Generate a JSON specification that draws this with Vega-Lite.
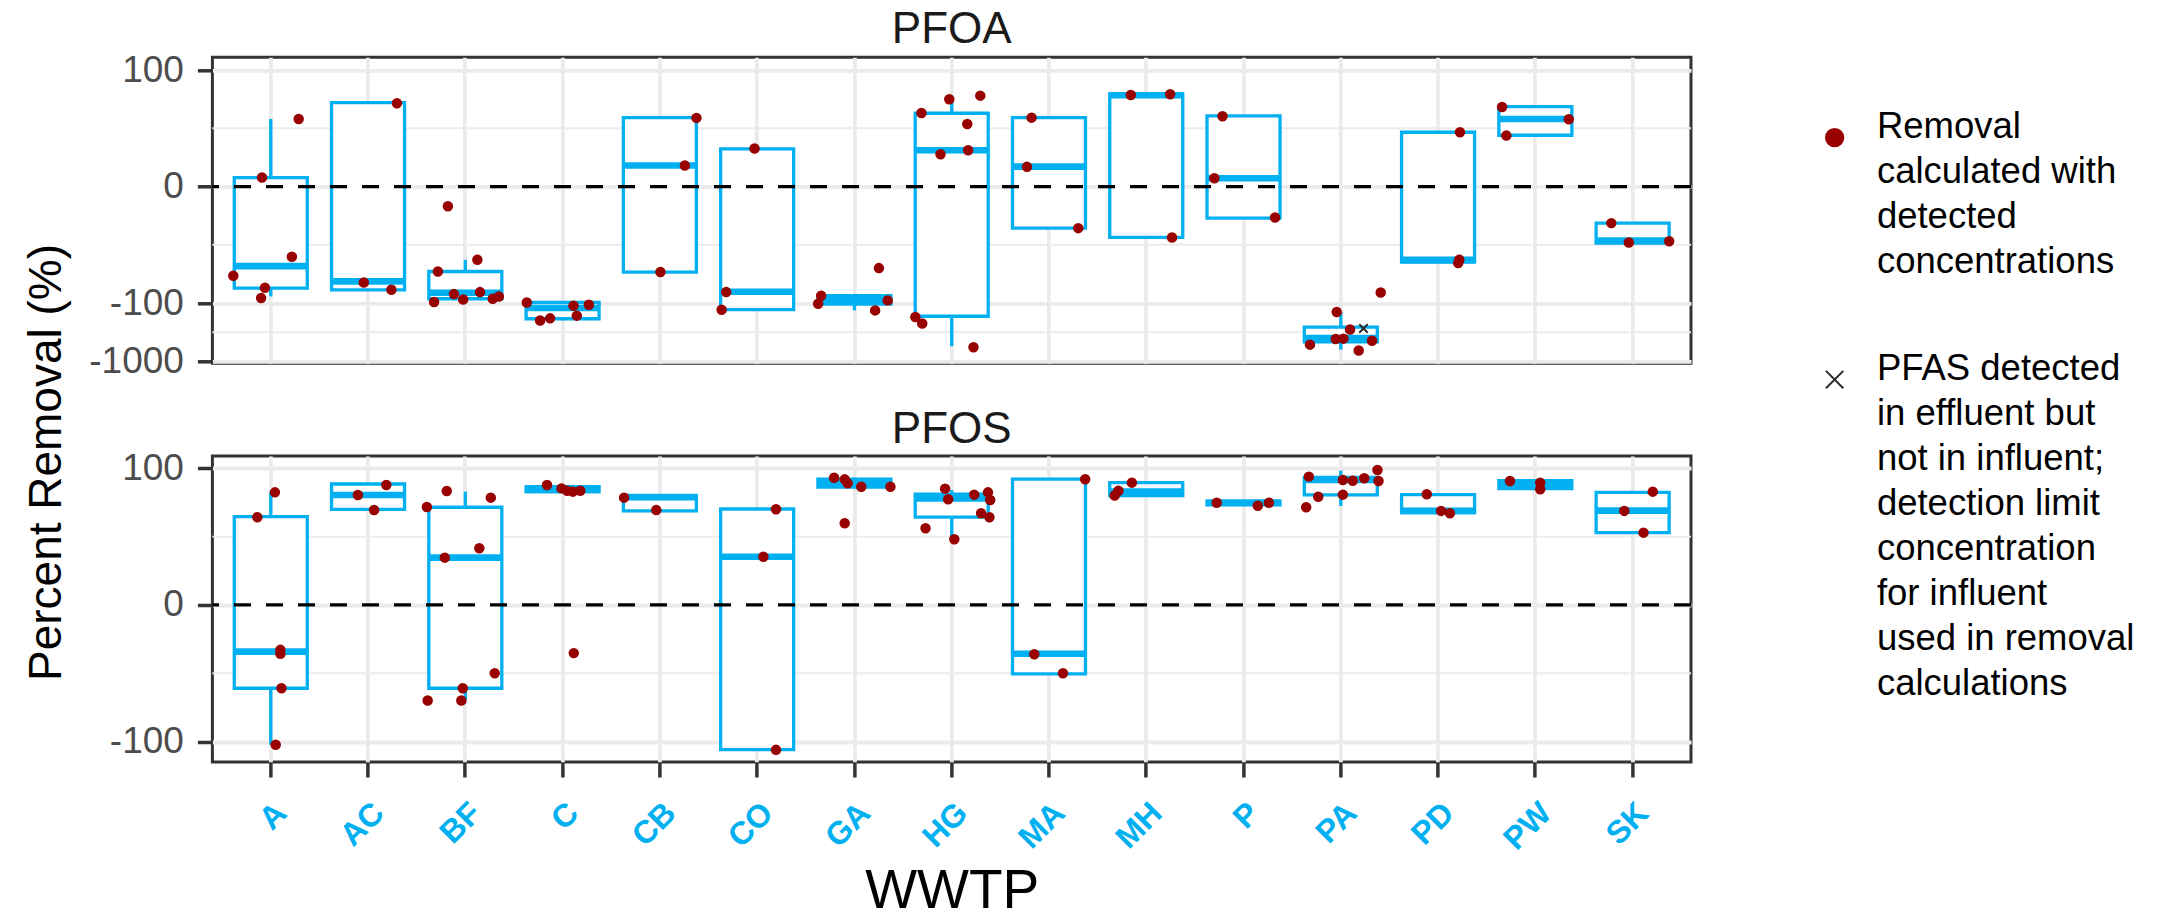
{
  "$schema": "https://vega.github.io/schema/vega-lite/v6.json",
  "autosize": {"type": "none"},
  "padding": {"left": 212.4, "top": 57.3, "right": 1946.6, "bottom": 861.7},
  "background": "white",
  "bounds": "flush",
  "spacing": 92.7,
  "datasets": {
    "minor": [
      {"panel": "PFOA", "value": 50}, {"panel": "PFOA", "value": -50}, {"panel": "PFOA", "value": -316.2},
      {"panel": "PFOS", "value": 50}, {"panel": "PFOS", "value": -50}
    ],
    "boxes": [
      {"panel": "PFOA", "site": "A", "lower": -94.3, "q1": -87.1, "median": -68.3, "q3": 7.7, "upper": 58.0},
      {"panel": "PFOA", "site": "AC", "lower": -88.6, "q1": -88.6, "median": -81.4, "q3": 72.0, "upper": 72.0},
      {"panel": "PFOA", "site": "BF", "lower": -99.1, "q1": -96.3, "median": -91.2, "q3": -72.9, "upper": -62.9},
      {"panel": "PFOA", "site": "C", "lower": -199, "q1": -187, "median": -122, "q3": -99.5, "upper": -99.1},
      {"panel": "PFOA", "site": "CB", "lower": -73.4, "q1": -73.4, "median": 18.0, "q3": 59.1, "upper": 59.1},
      {"panel": "PFOA", "site": "CO", "lower": -130, "q1": -130, "median": -90.3, "q3": 32.3, "upper": 32.3},
      {"panel": "PFOA", "site": "GA", "lower": -134, "q1": -104, "median": -97.1, "q3": -93.7, "upper": -93.7},
      {"panel": "PFOA", "site": "HG", "lower": -553, "q1": -169, "median": 31.1, "q3": 62.9, "upper": 74.3},
      {"panel": "PFOA", "site": "MA", "lower": -35.7, "q1": -35.7, "median": 17.1, "q3": 59.1, "upper": 59.1},
      {"panel": "PFOA", "site": "MH", "lower": -43.7, "q1": -43.7, "median": 78.3, "q3": 79.5, "upper": 79.5},
      {"panel": "PFOA", "site": "P", "lower": -27.1, "q1": -27.1, "median": 7.1, "q3": 60.6, "upper": 60.6},
      {"panel": "PFOA", "site": "PA", "lower": -631, "q1": -464, "median": -398, "q3": -259, "upper": -144},
      {"panel": "PFOA", "site": "PD", "lower": -64.9, "q1": -64.9, "median": -62.9, "q3": 46.6, "upper": 46.6},
      {"panel": "PFOA", "site": "PW", "lower": 44.0, "q1": 44.0, "median": 58.0, "q3": 68.6, "upper": 68.6},
      {"panel": "PFOA", "site": "SK", "lower": -48.6, "q1": -48.6, "median": -46.4, "q3": -31.4, "upper": -31.4},
      {"panel": "PFOS", "site": "A", "lower": -102.4, "q1": -61, "median": -34.2, "q3": 64.6, "upper": 82.9},
      {"panel": "PFOS", "site": "AC", "lower": 70, "q1": 70, "median": 80.5, "q3": 88.5, "upper": 88.5},
      {"panel": "PFOS", "site": "BF", "lower": -70, "q1": -61, "median": 34.6, "q3": 71.5, "upper": 82.9},
      {"panel": "PFOS", "site": "C", "lower": 82.9, "q1": 83, "median": 84.2, "q3": 86.5, "upper": 87.8},
      {"panel": "PFOS", "site": "CB", "lower": 68.8, "q1": 68.8, "median": 78.8, "q3": 80.2, "upper": 80.2},
      {"panel": "PFOS", "site": "CO", "lower": -106, "q1": -106, "median": 35.3, "q3": 70.2, "upper": 70.2},
      {"panel": "PFOS", "site": "GA", "lower": 86.3, "q1": 86.3, "median": 89.5, "q3": 92, "upper": 93.1},
      {"panel": "PFOS", "site": "HG", "lower": 47.5, "q1": 64.2, "median": 78, "q3": 81, "upper": 84.1},
      {"panel": "PFOS", "site": "MA", "lower": -50.5, "q1": -50.5, "median": -35.8, "q3": 92, "upper": 92},
      {"panel": "PFOS", "site": "MH", "lower": 80, "q1": 80, "median": 83, "q3": 89.5, "upper": 89.5},
      {"panel": "PFOS", "site": "P", "lower": 73.3, "q1": 73.3, "median": 74.8, "q3": 76, "upper": 76},
      {"panel": "PFOS", "site": "PA", "lower": 72.4, "q1": 80.5, "median": 91.4, "q3": 93.4, "upper": 98.2},
      {"panel": "PFOS", "site": "PD", "lower": 67.5, "q1": 67.5, "median": 68.8, "q3": 80.7, "upper": 80.7},
      {"panel": "PFOS", "site": "PW", "lower": 85.1, "q1": 85.1, "median": 88.5, "q3": 91, "upper": 91},
      {"panel": "PFOS", "site": "SK", "lower": 52.9, "q1": 52.9, "median": 69, "q3": 82.4, "upper": 82.4}
    ],
    "points": [
      {"panel": "PFOA", "site": "A", "value": 58.0, "jitter": 0.287, "kind": "detected"},
      {"panel": "PFOA", "site": "A", "value": 7.7, "jitter": -0.09, "kind": "detected"},
      {"panel": "PFOA", "site": "A", "value": -60.3, "jitter": 0.217, "kind": "detected"},
      {"panel": "PFOA", "site": "A", "value": -76.6, "jitter": -0.385, "kind": "detected"},
      {"panel": "PFOA", "site": "A", "value": -86.9, "jitter": -0.06, "kind": "detected"},
      {"panel": "PFOA", "site": "A", "value": -95.7, "jitter": -0.099, "kind": "detected"},
      {"panel": "PFOA", "site": "AC", "value": 71.4, "jitter": 0.297, "kind": "detected"},
      {"panel": "PFOA", "site": "AC", "value": -82.3, "jitter": -0.044, "kind": "detected"},
      {"panel": "PFOA", "site": "AC", "value": -88.6, "jitter": 0.24, "kind": "detected"},
      {"panel": "PFOA", "site": "BF", "value": -16.9, "jitter": -0.179, "kind": "detected"},
      {"panel": "PFOA", "site": "BF", "value": -62.9, "jitter": 0.124, "kind": "detected"},
      {"panel": "PFOA", "site": "BF", "value": -72.9, "jitter": -0.282, "kind": "detected"},
      {"panel": "PFOA", "site": "BF", "value": -92.3, "jitter": -0.117, "kind": "detected"},
      {"panel": "PFOA", "site": "BF", "value": -90.6, "jitter": 0.151, "kind": "detected"},
      {"panel": "PFOA", "site": "BF", "value": -99.1, "jitter": -0.321, "kind": "detected"},
      {"panel": "PFOA", "site": "BF", "value": -96.9, "jitter": -0.022, "kind": "detected"},
      {"panel": "PFOA", "site": "BF", "value": -96.3, "jitter": 0.282, "kind": "detected"},
      {"panel": "PFOA", "site": "BF", "value": -94.3, "jitter": 0.345, "kind": "detected"},
      {"panel": "PFOA", "site": "C", "value": -99.5, "jitter": -0.368, "kind": "detected"},
      {"panel": "PFOA", "site": "C", "value": -199, "jitter": -0.231, "kind": "detected"},
      {"panel": "PFOA", "site": "C", "value": -184, "jitter": -0.128, "kind": "detected"},
      {"panel": "PFOA", "site": "C", "value": -111, "jitter": 0.112, "kind": "detected"},
      {"panel": "PFOA", "site": "C", "value": -165, "jitter": 0.146, "kind": "detected"},
      {"panel": "PFOA", "site": "C", "value": -107, "jitter": 0.27, "kind": "detected"},
      {"panel": "PFOA", "site": "CB", "value": 58.9, "jitter": 0.376, "kind": "detected"},
      {"panel": "PFOA", "site": "CB", "value": 18.0, "jitter": 0.257, "kind": "detected"},
      {"panel": "PFOA", "site": "CB", "value": -73.4, "jitter": 0.006, "kind": "detected"},
      {"panel": "PFOA", "site": "CO", "value": 32.6, "jitter": -0.027, "kind": "detected"},
      {"panel": "PFOA", "site": "CO", "value": -90.6, "jitter": -0.318, "kind": "detected"},
      {"panel": "PFOA", "site": "CO", "value": -130, "jitter": -0.365, "kind": "detected"},
      {"panel": "PFOA", "site": "GA", "value": -70, "jitter": 0.252, "kind": "detected"},
      {"panel": "PFOA", "site": "GA", "value": -93.7, "jitter": -0.342, "kind": "detected"},
      {"panel": "PFOA", "site": "GA", "value": -103, "jitter": -0.373, "kind": "detected"},
      {"panel": "PFOA", "site": "GA", "value": -97.7, "jitter": 0.342, "kind": "detected"},
      {"panel": "PFOA", "site": "GA", "value": -134, "jitter": 0.213, "kind": "detected"},
      {"panel": "PFOA", "site": "HG", "value": 74.9, "jitter": -0.025, "kind": "detected"},
      {"panel": "PFOA", "site": "HG", "value": 78.0, "jitter": 0.294, "kind": "detected"},
      {"panel": "PFOA", "site": "HG", "value": 63.1, "jitter": -0.311, "kind": "detected"},
      {"panel": "PFOA", "site": "HG", "value": 53.7, "jitter": 0.16, "kind": "detected"},
      {"panel": "PFOA", "site": "HG", "value": 27.7, "jitter": -0.115, "kind": "detected"},
      {"panel": "PFOA", "site": "HG", "value": 31.1, "jitter": 0.169, "kind": "detected"},
      {"panel": "PFOA", "site": "HG", "value": -174, "jitter": -0.374, "kind": "detected"},
      {"panel": "PFOA", "site": "HG", "value": -226, "jitter": -0.303, "kind": "detected"},
      {"panel": "PFOA", "site": "HG", "value": -575, "jitter": 0.224, "kind": "detected"},
      {"panel": "PFOA", "site": "MA", "value": 59.1, "jitter": -0.179, "kind": "detected"},
      {"panel": "PFOA", "site": "MA", "value": 16.9, "jitter": -0.226, "kind": "detected"},
      {"panel": "PFOA", "site": "MA", "value": -35.7, "jitter": 0.301, "kind": "detected"},
      {"panel": "PFOA", "site": "MH", "value": 78.6, "jitter": -0.159, "kind": "detected"},
      {"panel": "PFOA", "site": "MH", "value": 79.2, "jitter": 0.246, "kind": "detected"},
      {"panel": "PFOA", "site": "MH", "value": -43.7, "jitter": 0.265, "kind": "detected"},
      {"panel": "PFOA", "site": "P", "value": 60.3, "jitter": -0.216, "kind": "detected"},
      {"panel": "PFOA", "site": "P", "value": 7.1, "jitter": -0.3, "kind": "detected"},
      {"panel": "PFOA", "site": "P", "value": -26.6, "jitter": 0.324, "kind": "detected"},
      {"panel": "PFOA", "site": "PA", "value": -90.9, "jitter": 0.41, "kind": "detected"},
      {"panel": "PFOA", "site": "PA", "value": -143, "jitter": -0.042, "kind": "detected"},
      {"panel": "PFOA", "site": "PA", "value": -287, "jitter": 0.095, "kind": "detected"},
      {"panel": "PFOA", "site": "PA", "value": -416, "jitter": -0.052, "kind": "detected"},
      {"panel": "PFOA", "site": "PA", "value": -409, "jitter": 0.027, "kind": "detected"},
      {"panel": "PFOA", "site": "PA", "value": -519, "jitter": -0.317, "kind": "detected"},
      {"panel": "PFOA", "site": "PA", "value": -446, "jitter": 0.321, "kind": "detected"},
      {"panel": "PFOA", "site": "PA", "value": -657, "jitter": 0.184, "kind": "detected"},
      {"panel": "PFOA", "site": "PA", "value": -275, "jitter": 0.233, "kind": "not in influent"},
      {"panel": "PFOA", "site": "PD", "value": 46.6, "jitter": 0.225, "kind": "detected"},
      {"panel": "PFOA", "site": "PD", "value": -62.9, "jitter": 0.218, "kind": "detected"},
      {"panel": "PFOA", "site": "PD", "value": -65.7, "jitter": 0.207, "kind": "detected"},
      {"panel": "PFOA", "site": "PW", "value": 68.3, "jitter": -0.342, "kind": "detected"},
      {"panel": "PFOA", "site": "PW", "value": 57.7, "jitter": 0.344, "kind": "detected"},
      {"panel": "PFOA", "site": "PW", "value": 43.7, "jitter": -0.298, "kind": "detected"},
      {"panel": "PFOA", "site": "SK", "value": -31.4, "jitter": -0.219, "kind": "detected"},
      {"panel": "PFOA", "site": "SK", "value": -48.0, "jitter": -0.039, "kind": "detected"},
      {"panel": "PFOA", "site": "SK", "value": -46.9, "jitter": 0.376, "kind": "detected"},
      {"panel": "PFOS", "site": "A", "value": 82.4, "jitter": 0.043, "kind": "detected"},
      {"panel": "PFOS", "site": "A", "value": 64.2, "jitter": -0.138, "kind": "detected"},
      {"panel": "PFOS", "site": "A", "value": -32.9, "jitter": 0.099, "kind": "detected"},
      {"panel": "PFOS", "site": "A", "value": -35.8, "jitter": 0.099, "kind": "detected"},
      {"panel": "PFOS", "site": "A", "value": -61.0, "jitter": 0.11, "kind": "detected"},
      {"panel": "PFOS", "site": "A", "value": -102.4, "jitter": 0.051, "kind": "detected"},
      {"panel": "PFOS", "site": "AC", "value": 87.8, "jitter": 0.188, "kind": "detected"},
      {"panel": "PFOS", "site": "AC", "value": 80.5, "jitter": -0.104, "kind": "detected"},
      {"panel": "PFOS", "site": "AC", "value": 69.5, "jitter": 0.062, "kind": "detected"},
      {"panel": "PFOS", "site": "BF", "value": 83.4, "jitter": -0.191, "kind": "detected"},
      {"panel": "PFOS", "site": "BF", "value": 78.5, "jitter": 0.262, "kind": "detected"},
      {"panel": "PFOS", "site": "BF", "value": 71.7, "jitter": -0.395, "kind": "detected"},
      {"panel": "PFOS", "site": "BF", "value": 41.5, "jitter": 0.144, "kind": "detected"},
      {"panel": "PFOS", "site": "BF", "value": 34.6, "jitter": -0.211, "kind": "detected"},
      {"panel": "PFOS", "site": "BF", "value": -50.0, "jitter": 0.302, "kind": "detected"},
      {"panel": "PFOS", "site": "BF", "value": -61.0, "jitter": -0.026, "kind": "detected"},
      {"panel": "PFOS", "site": "BF", "value": -70.0, "jitter": -0.387, "kind": "detected"},
      {"panel": "PFOS", "site": "BF", "value": -70.0, "jitter": -0.041, "kind": "detected"},
      {"panel": "PFOS", "site": "C", "value": 87.8, "jitter": -0.16, "kind": "detected"},
      {"panel": "PFOS", "site": "C", "value": 85.3, "jitter": -0.011, "kind": "detected"},
      {"panel": "PFOS", "site": "C", "value": 83.6, "jitter": 0.047, "kind": "detected"},
      {"panel": "PFOS", "site": "C", "value": 82.9, "jitter": 0.106, "kind": "detected"},
      {"panel": "PFOS", "site": "C", "value": 83.6, "jitter": 0.182, "kind": "detected"},
      {"panel": "PFOS", "site": "C", "value": -35.3, "jitter": 0.115, "kind": "detected"},
      {"panel": "PFOS", "site": "CB", "value": 78.5, "jitter": -0.368, "kind": "detected"},
      {"panel": "PFOS", "site": "CB", "value": 69.5, "jitter": -0.037, "kind": "detected"},
      {"panel": "PFOS", "site": "CO", "value": 70.0, "jitter": 0.194, "kind": "detected"},
      {"panel": "PFOS", "site": "CO", "value": 35.3, "jitter": 0.064, "kind": "detected"},
      {"panel": "PFOS", "site": "CO", "value": -106.1, "jitter": 0.194, "kind": "detected"},
      {"panel": "PFOS", "site": "GA", "value": 93.1, "jitter": -0.209, "kind": "detected"},
      {"panel": "PFOS", "site": "GA", "value": 91.9, "jitter": -0.1, "kind": "detected"},
      {"panel": "PFOS", "site": "GA", "value": 89.0, "jitter": -0.07, "kind": "detected"},
      {"panel": "PFOS", "site": "GA", "value": 86.5, "jitter": 0.07, "kind": "detected"},
      {"panel": "PFOS", "site": "GA", "value": 86.5, "jitter": 0.37, "kind": "detected"},
      {"panel": "PFOS", "site": "GA", "value": 59.8, "jitter": -0.1, "kind": "detected"},
      {"panel": "PFOS", "site": "HG", "value": 85.1, "jitter": -0.068, "kind": "detected"},
      {"panel": "PFOS", "site": "HG", "value": 80.7, "jitter": 0.231, "kind": "detected"},
      {"panel": "PFOS", "site": "HG", "value": 82.4, "jitter": 0.373, "kind": "detected"},
      {"panel": "PFOS", "site": "HG", "value": 77.3, "jitter": -0.036, "kind": "detected"},
      {"panel": "PFOS", "site": "HG", "value": 76.8, "jitter": 0.396, "kind": "detected"},
      {"panel": "PFOS", "site": "HG", "value": 67.1, "jitter": 0.302, "kind": "detected"},
      {"panel": "PFOS", "site": "HG", "value": 64.2, "jitter": 0.388, "kind": "detected"},
      {"panel": "PFOS", "site": "HG", "value": 56.1, "jitter": -0.269, "kind": "detected"},
      {"panel": "PFOS", "site": "HG", "value": 48.1, "jitter": 0.027, "kind": "detected"},
      {"panel": "PFOS", "site": "MA", "value": 92.0, "jitter": 0.372, "kind": "detected"},
      {"panel": "PFOS", "site": "MA", "value": -36.1, "jitter": -0.151, "kind": "detected"},
      {"panel": "PFOS", "site": "MA", "value": -50.0, "jitter": 0.144, "kind": "detected"},
      {"panel": "PFOS", "site": "MH", "value": 89.5, "jitter": -0.148, "kind": "detected"},
      {"panel": "PFOS", "site": "MH", "value": 83.6, "jitter": -0.286, "kind": "detected"},
      {"panel": "PFOS", "site": "MH", "value": 80.0, "jitter": -0.325, "kind": "detected"},
      {"panel": "PFOS", "site": "P", "value": 74.8, "jitter": -0.276, "kind": "detected"},
      {"panel": "PFOS", "site": "P", "value": 72.6, "jitter": 0.147, "kind": "detected"},
      {"panel": "PFOS", "site": "P", "value": 74.8, "jitter": 0.261, "kind": "detected"},
      {"panel": "PFOS", "site": "PA", "value": 98.8, "jitter": 0.377, "kind": "detected"},
      {"panel": "PFOS", "site": "PA", "value": 93.9, "jitter": -0.328, "kind": "detected"},
      {"panel": "PFOS", "site": "PA", "value": 91.4, "jitter": 0.021, "kind": "detected"},
      {"panel": "PFOS", "site": "PA", "value": 90.9, "jitter": 0.123, "kind": "detected"},
      {"panel": "PFOS", "site": "PA", "value": 92.7, "jitter": 0.241, "kind": "detected"},
      {"panel": "PFOS", "site": "PA", "value": 90.7, "jitter": 0.388, "kind": "detected"},
      {"panel": "PFOS", "site": "PA", "value": 79.2, "jitter": -0.232, "kind": "detected"},
      {"panel": "PFOS", "site": "PA", "value": 80.7, "jitter": 0.021, "kind": "detected"},
      {"panel": "PFOS", "site": "PA", "value": 71.5, "jitter": -0.356, "kind": "detected"},
      {"panel": "PFOS", "site": "PD", "value": 81.0, "jitter": -0.116, "kind": "detected"},
      {"panel": "PFOS", "site": "PD", "value": 68.8, "jitter": 0.031, "kind": "detected"},
      {"panel": "PFOS", "site": "PD", "value": 67.1, "jitter": 0.122, "kind": "detected"},
      {"panel": "PFOS", "site": "PW", "value": 90.7, "jitter": -0.261, "kind": "detected"},
      {"panel": "PFOS", "site": "PW", "value": 89.5, "jitter": 0.05, "kind": "detected"},
      {"panel": "PFOS", "site": "PW", "value": 84.6, "jitter": 0.05, "kind": "detected"},
      {"panel": "PFOS", "site": "SK", "value": 82.9, "jitter": 0.207, "kind": "detected"},
      {"panel": "PFOS", "site": "SK", "value": 68.8, "jitter": -0.086, "kind": "detected"},
      {"panel": "PFOS", "site": "SK", "value": 52.9, "jitter": 0.112, "kind": "detected"}
    ]
  },
  "vconcat": [
    {
      "width": 1478.6,
      "height": 306,
      "title": {"text": "PFOA", "frame": "group", "anchor": "middle", "offset": 14, "dy": 50, "baseline": "alphabetic", "fontSize": 44},
      "resolve": {"scale": {"xOffset": "independent"}},
      "layer": [
        {
          "data": {"name": "minor"},
          "transform": [{"filter": "datum.panel == 'PFOA'"}],
          "mark": {"type": "rule", "color": "#EBEBEB", "strokeWidth": 1.9},
          "encoding": {
            "y": {"field": "value", "type": "quantitative",
              "scale": {"domain": [-1082, -900, -750, -600, -500, -400, -316.2, -250, -200, -160, -130, -115, -100, 110.9], "range": [306, 301.36, 296.74, 291.1, 286.49, 280.84, 274.89, 268.95, 263.3, 257.66, 252.4, 249.29, 245.76, 0], "nice": false, "zero": false},
              "axis": {"values": [-1000, -100, 0, 100], "labelExpr": "'' + datum.value", "grid": true, "labelOverlap": false, "title": "Percent Removal (%)", "titleFontSize": 46, "titleX": -151.7, "titleY": 404.7, "titleAlign": "center", "titleBaseline": "alphabetic", "titleAngle": 270}}
          }
        },
        {
          "data": {"name": "boxes"},
          "transform": [{"filter": "datum.panel == 'PFOA'"}],
          "mark": {"type": "rule", "color": "#00B0F0", "strokeWidth": 3.3},
          "encoding": {
            "x": {"field": "site", "type": "nominal", "scale": {"domain": ["A", "AC", "BF", "C", "CB", "CO", "GA", "HG", "MA", "MH", "P", "PA", "PD", "PW", "SK"], "paddingInner": 0, "paddingOuter": 0.1}, "axis": {"labels": false, "ticks": false, "title": null, "grid": true, "bandPosition": 0.5}},
            "y": {"field": "lower", "type": "quantitative",
              "scale": {"domain": [-1082, -900, -750, -600, -500, -400, -316.2, -250, -200, -160, -130, -115, -100, 110.9], "range": [306, 301.36, 296.74, 291.1, 286.49, 280.84, 274.89, 268.95, 263.3, 257.66, 252.4, 249.29, 245.76, 0], "nice": false, "zero": false}},
            "y2": {"field": "upper"}
          }
        },
        {
          "data": {"name": "boxes"},
          "transform": [{"filter": "datum.panel == 'PFOA'"}],
          "mark": {"type": "bar", "width": 73, "fill": "white", "stroke": "#00B0F0", "strokeWidth": 3.3},
          "encoding": {
            "x": {"field": "site", "type": "nominal"},
            "y": {"field": "q1", "type": "quantitative"},
            "y2": {"field": "q3"}
          }
        },
        {
          "data": {"name": "boxes"},
          "transform": [{"filter": "datum.panel == 'PFOA'"}],
          "mark": {"type": "tick", "color": "#00B0F0", "thickness": 6.6, "size": 73, "opacity": 1},
          "encoding": {
            "x": {"field": "site", "type": "nominal"},
            "y": {"field": "median", "type": "quantitative"}
          }
        },
        {
          "data": {"values": [{"ref": 0}]},
          "mark": {"type": "rule", "color": "#000000", "strokeWidth": 3.3, "strokeDash": [17, 15]},
          "encoding": {
            "y": {"field": "ref", "type": "quantitative"}
          }
        },
        {
          "data": {"name": "points"},
          "transform": [{"filter": "datum.panel == 'PFOA'"}],
          "mark": {"type": "point", "filled": true, "size": 72, "strokeWidth": 2, "opacity": 1},
          "encoding": {
            "x": {"field": "site", "type": "nominal"},
            "xOffset": {"field": "jitter", "type": "quantitative", "scale": {"domain": [-0.5, 0.5]}},
            "y": {"field": "value", "type": "quantitative"},
            "fill": {"field": "kind", "type": "nominal", "scale": {"domain": ["detected", "not in influent"], "range": ["#990000", "#2B2B2B"]},
              "legend": {"title": null, "labelExpr": "datum.value == 'detected' ? ['Removal', 'calculated with', 'detected', 'concentrations'] : ['PFAS detected', 'in effluent but', 'not in influent;', 'detection limit', 'concentration', 'for influent', 'used in removal', 'calculations']"}},
            "stroke": {"field": "kind", "type": "nominal", "scale": {"domain": ["detected", "not in influent"], "range": ["#990000", "#2B2B2B"]},
              "legend": {"title": null, "labelExpr": "datum.value == 'detected' ? ['Removal', 'calculated with', 'detected', 'concentrations'] : ['PFAS detected', 'in effluent but', 'not in influent;', 'detection limit', 'concentration', 'for influent', 'used in removal', 'calculations']"}},
            "shape": {"field": "kind", "type": "nominal", "scale": {"domain": ["detected", "not in influent"], "range": ["circle", "M-1,-1L1,1M-1,1L1,-1"]},
              "legend": {"title": null, "labelExpr": "datum.value == 'detected' ? ['Removal', 'calculated with', 'detected', 'concentrations'] : ['PFAS detected', 'in effluent but', 'not in influent;', 'detection limit', 'concentration', 'for influent', 'used in removal', 'calculations']"}}
          }
        }
      ]
    },
    {
      "width": 1478.6,
      "height": 306,
      "title": {"text": "PFOS", "frame": "group", "anchor": "middle", "offset": 14, "dy": 52, "baseline": "alphabetic", "fontSize": 44},
      "resolve": {"scale": {"xOffset": "independent"}},
      "layer": [
        {
          "data": {"name": "minor"},
          "transform": [{"filter": "datum.panel == 'PFOS'"}],
          "mark": {"type": "rule", "color": "#EBEBEB", "strokeWidth": 1.9},
          "encoding": {
            "y": {"field": "value", "type": "quantitative",
              "scale": {"domain": [-115, 109], "nice": false, "zero": false},
              "axis": {"values": [-100, 0, 100], "labelExpr": "'' + datum.value", "grid": true, "labelOverlap": false, "title": null}}
          }
        },
        {
          "data": {"name": "boxes"},
          "transform": [{"filter": "datum.panel == 'PFOS'"}],
          "mark": {"type": "rule", "color": "#00B0F0", "strokeWidth": 3.3},
          "encoding": {
            "x": {"field": "site", "type": "nominal", "scale": {"domain": ["A", "AC", "BF", "C", "CB", "CO", "GA", "HG", "MA", "MH", "P", "PA", "PD", "PW", "SK"], "paddingInner": 0, "paddingOuter": 0.1},
              "axis": {"grid": true, "bandPosition": 0.5, "labelAngle": -45, "labelAlign": "right", "labelBaseline": "top", "labelPadding": 20, "labelFontSize": 32, "labelFontWeight": "bold", "labelColor": "#00B0F0", "labelOverlap": false, "title": "WWTP", "titleFontSize": 55, "titleY": 145.7, "titleBaseline": "alphabetic"}},
            "y": {"field": "lower", "type": "quantitative", "scale": {"domain": [-115, 109], "nice": false, "zero": false}},
            "y2": {"field": "upper"}
          }
        },
        {
          "data": {"name": "boxes"},
          "transform": [{"filter": "datum.panel == 'PFOS'"}],
          "mark": {"type": "bar", "width": 73, "fill": "white", "stroke": "#00B0F0", "strokeWidth": 3.3},
          "encoding": {
            "x": {"field": "site", "type": "nominal"},
            "y": {"field": "q1", "type": "quantitative"},
            "y2": {"field": "q3"}
          }
        },
        {
          "data": {"name": "boxes"},
          "transform": [{"filter": "datum.panel == 'PFOS'"}],
          "mark": {"type": "tick", "color": "#00B0F0", "thickness": 6.6, "size": 73, "opacity": 1},
          "encoding": {
            "x": {"field": "site", "type": "nominal"},
            "y": {"field": "median", "type": "quantitative"}
          }
        },
        {
          "data": {"values": [{"ref": 0}]},
          "mark": {"type": "rule", "color": "#000000", "strokeWidth": 3.3, "strokeDash": [17, 15]},
          "encoding": {
            "y": {"field": "ref", "type": "quantitative"}
          }
        },
        {
          "data": {"name": "points"},
          "transform": [{"filter": "datum.panel == 'PFOS'"}],
          "mark": {"type": "point", "filled": true, "size": 72, "strokeWidth": 2, "opacity": 1},
          "encoding": {
            "x": {"field": "site", "type": "nominal"},
            "xOffset": {"field": "jitter", "type": "quantitative", "scale": {"domain": [-0.5, 0.5]}},
            "y": {"field": "value", "type": "quantitative"},
            "fill": {"field": "kind", "type": "nominal", "scale": {"domain": ["detected", "not in influent"], "range": ["#990000", "#2B2B2B"]}, "legend": null},
            "stroke": {"field": "kind", "type": "nominal", "scale": {"domain": ["detected", "not in influent"], "range": ["#990000", "#2B2B2B"]}, "legend": null},
            "shape": {"field": "kind", "type": "nominal", "scale": {"domain": ["detected", "not in influent"], "range": ["circle", "M-1,-1L1,1M-1,1L1,-1"]}, "legend": null}
          }
        }
      ]
    }
  ],
  "config": {
    "font": "Liberation Sans",
    "view": {"stroke": "#333333", "strokeWidth": 3},
    "axis": {"domain": false, "gridColor": "#EBEBEB", "gridWidth": 3.8, "tickColor": "#333333", "tickWidth": 3.5, "tickSize": 15, "labelColor": "#4D4D4D", "labelFont": "Liberation Sans", "labelFontSize": 37, "labelPadding": 14, "titleFont": "Liberation Sans", "titleColor": "#000000", "titleFontWeight": "normal"},
    "title": {"font": "Liberation Sans", "fontSize": 44, "fontWeight": "normal", "color": "#1A1A1A"},
    "legend": {"orient": "right", "labelFont": "Liberation Sans", "labelFontSize": 36.5, "labelColor": "#000000", "labelLimit": 1000, "labelBaseline": "alphabetic", "labelOffset": 24, "symbolSize": 300, "symbolStrokeWidth": 2, "rowPadding": 70, "padding": 62, "offset": 60},
    "style": {"guide-label": {"lineHeight": 45}}
  }
}
